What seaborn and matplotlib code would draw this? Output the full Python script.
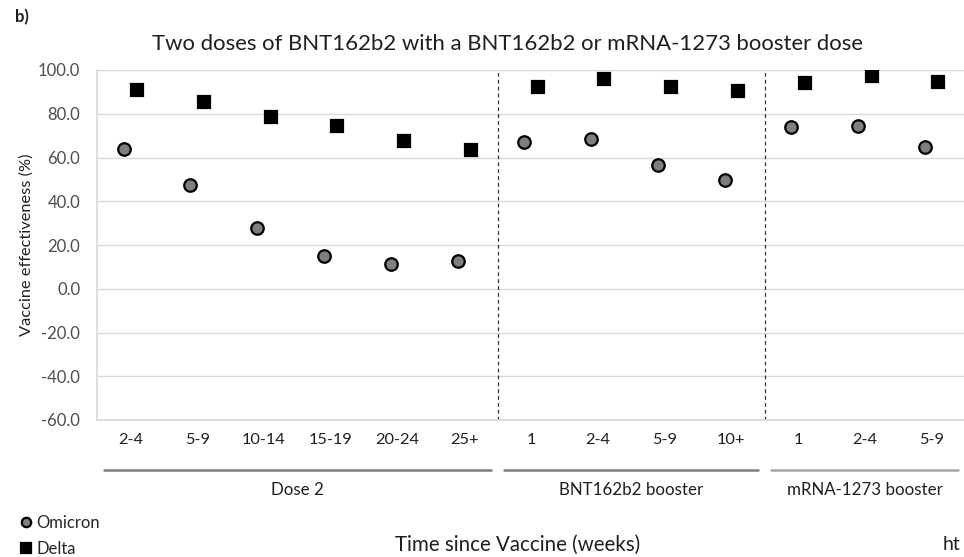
import numpy as np
import pandas as pd
import matplotlib
matplotlib.use("Agg")
import matplotlib.pyplot as plt
import matplotlib.transforms as mtransforms
import seaborn as sns

# ---- data ----
group_names = ["Dose 2", "BNT162b2 booster", "mRNA-1273 booster"]
group_sizes = [6, 4, 3]
week_labels = ["2-4", "5-9", "10-14", "15-19", "20-24", "25+",
               "1", "2-4", "5-9", "10+",
               "1", "2-4", "5-9"]
omicron = [63.7, 47.4, 27.6, 15.1, 11.3, 12.5, 67.0, 68.5, 56.6, 49.7, 74.1, 74.4, 64.9]
delta = [90.9, 85.5, 78.7, 74.4, 67.7, 63.4, 92.1, 95.7, 92.1, 90.5, 93.9, 97.3, 94.7]
variants = ["Omicron", "Delta"]
y_ticks = [-60, -40, -20, 0, 20, 40, 60, 80, 100]

groups = [g for g, n in zip(group_names, group_sizes) for _ in range(n)]
keys = [f"{g}|{w}" for g, w in zip(groups, week_labels)]
df = pd.DataFrame({
    "key": keys * 2,
    "variant": ["Omicron"] * len(keys) + ["Delta"] * len(keys),
    "value": omicron + delta,
})

sns.set_theme(style="white")
plt.rcParams["font.family"] = ["Lato", "DejaVu Sans"]
TXT = "#1f1f1f"

fig = plt.figure(figsize=(9.64, 5.57), dpi=100)
ax = fig.add_axes([97 / 964, 1 - 420 / 557, (965 - 97) / 964, 350 / 557])

sns.pointplot(data=df, x="key", y="value", hue="variant", order=keys,
              hue_order=variants,
              palette={"Omicron": "#7f7f7f", "Delta": "black"},
              markers=["o", "s"], linestyle="none", dodge=0.2,
              errorbar=None, markersize=9, markeredgecolor="black",
              markeredgewidth=1.6, ax=ax, zorder=5)

handles, labels = ax.get_legend_handles_labels()
if ax.get_legend() is not None:
    ax.get_legend().remove()

ax.set_xlim(-0.5, len(keys) - 0.5)
ax.set_ylim(-60, 100)
ax.set_yticks(y_ticks)
ax.set_yticklabels([f"{v:.1f}" for v in y_ticks])
ax.set_xticks(range(len(keys)))
ax.set_xticklabels(week_labels)
ax.tick_params(axis="y", length=0, pad=12, labelsize=12, labelcolor="#4d4d4d")
ax.tick_params(axis="x", length=0, pad=9, labelsize=11.8, labelcolor=TXT)
ax.yaxis.grid(True, color="#d9d9d9", linewidth=1.0)
ax.xaxis.grid(False)
ax.set_axisbelow(True)
for s in ["top", "right"]:
    ax.spines[s].set_visible(False)
ax.spines["left"].set_color("#d9d9d9")
ax.spines["bottom"].set_color("#d9d9d9")
ax.set_xlabel("")
ax.set_ylabel("Vaccine effectiveness (%)", fontsize=11.8, color=TXT, labelpad=3)

# group separators and group labels
trans = mtransforms.blended_transform_factory(ax.transData, ax.transAxes)
start = 0
line_colors = ["#7f7f7f", "#7f7f7f", "#a6a6a6"]
for i, (name, n) in enumerate(zip(group_names, group_sizes)):
    end = start + n - 1
    if i < len(group_sizes) - 1:
        ax.axvline(end + 0.5, color="#333333", linestyle=(0, (3, 2.5)), linewidth=0.9)
    ax.plot([start - 0.4, end + 0.4], [-0.143, -0.143], transform=trans,
            color=line_colors[i], linewidth=1.8, clip_on=False)
    ax.text((start + end) / 2, -0.2, name, transform=trans, ha="center",
            va="center", fontsize=12.2, color=TXT)
    start = end + 1

fig.text(0.5265, 1 - 44 / 557,
         "Two doses of BNT162b2 with a BNT162b2 or mRNA-1273 booster dose",
         ha="center", va="center", fontsize=15.9, color=TXT)
fig.text(15 / 964, 1 - 17 / 557, "b)", ha="left", va="center", fontsize=12,
         fontweight="bold", color=TXT)
fig.text(518 / 964, 1 - 545 / 557, "Time since Vaccine (weeks)", ha="center",
         va="center", fontsize=14.8, color=TXT)
fig.text(943 / 964, 1 - 545 / 557, "ht", ha="left", va="center", fontsize=14,
         color=TXT)

fig.legend(handles, labels, loc="upper left", bbox_to_anchor=(20 / 964, 1 - 515 / 557),
           frameon=False, borderpad=0, borderaxespad=0, handlelength=0.7,
           handletextpad=0.3, labelspacing=0.58, markerscale=0.75,
           prop={"size": 12})

fig.savefig("out.png", dpi=100)
